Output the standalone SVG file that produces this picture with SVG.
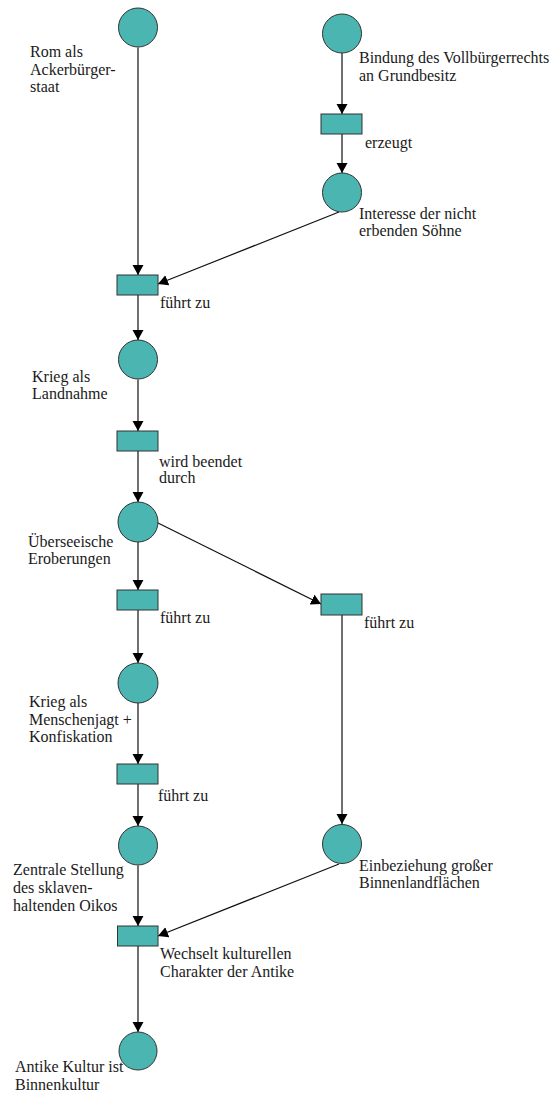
<svg xmlns="http://www.w3.org/2000/svg" width="552" height="1095" viewBox="0 0 552 1095">
<style>
.p{fill:#4bb5b1;stroke:#333;stroke-width:1}
.t{fill:#4bb5b1;stroke:#333;stroke-width:1}
.e{stroke:#111;stroke-width:1.2;fill:none;marker-end:url(#ah)}
text{font-family:"Liberation Serif","Times New Roman",serif;font-size:16px;fill:#1a1a1a}
</style>
<defs>
<marker id="ah" markerUnits="userSpaceOnUse" markerWidth="12" markerHeight="12" refX="10" refY="5.5" orient="auto">
<path d="M0,0 L10,5.5 L0,11 z" fill="#000"/>
</marker>
</defs>
<g id="connectors">
<line class="e" x1="138" y1="47.5" x2="138" y2="275"/>
<line class="e" x1="342" y1="53" x2="342" y2="114"/>
<line class="e" x1="342" y1="134" x2="342" y2="173"/>
<line class="e" x1="339" y1="212" x2="158" y2="284"/>
<line class="e" x1="138" y1="295" x2="138" y2="340"/>
<line class="e" x1="138" y1="379.5" x2="138" y2="431"/>
<line class="e" x1="138" y1="451" x2="138" y2="502"/>
<line class="e" x1="138" y1="542" x2="138" y2="590"/>
<line class="e" x1="158" y1="523" x2="321" y2="604"/>
<line class="e" x1="138" y1="610" x2="138" y2="663"/>
<line class="e" x1="138" y1="703" x2="138" y2="764"/>
<line class="e" x1="138" y1="784" x2="138" y2="826"/>
<line class="e" x1="342" y1="615" x2="342" y2="824"/>
<line class="e" x1="138" y1="865.5" x2="138" y2="926"/>
<line class="e" x1="339" y1="864" x2="158" y2="936"/>
<line class="e" x1="138" y1="946" x2="138" y2="1032"/>
</g>
<g id="p1"><circle class="p" cx="138" cy="27.5" r="19.5"/><text x="30" y="57">Rom als</text><text x="30" y="74.5">Ackerbürger-</text><text x="30" y="92">staat</text></g>
<g id="p2"><circle class="p" cx="342" cy="33.5" r="19.5"/><text x="359" y="63">Bindung des Vollbürgerrechts</text><text x="359" y="81">an Grundbesitz</text></g>
<g id="t1"><rect class="t" x="321" y="114" width="41" height="20"/><text x="365" y="148">erzeugt</text></g>
<g id="p3"><circle class="p" cx="342" cy="192.5" r="19.5"/><text x="359" y="219">Interesse der nicht</text><text x="359" y="236">erbenden Söhne</text></g>
<g id="t2"><rect class="t" x="117" y="275" width="41" height="20"/><text x="160" y="308">führt zu</text></g>
<g id="p4"><circle class="p" cx="138" cy="359.5" r="19.5"/><text x="32" y="382">Krieg als</text><text x="32" y="399">Landnahme</text></g>
<g id="t3"><rect class="t" x="117" y="431" width="41" height="20"/><text x="159" y="467">wird beendet</text><text x="159" y="483">durch</text></g>
<g id="p5"><circle class="p" cx="138" cy="522" r="20"/><text x="28" y="547">Überseeische</text><text x="28" y="564">Eroberungen</text></g>
<g id="t4"><rect class="t" x="117" y="590" width="41" height="20"/><text x="160" y="623">führt zu</text></g>
<g id="t5"><rect class="t" x="321" y="594" width="41" height="21"/><text x="364" y="628">führt zu</text></g>
<g id="p6"><circle class="p" cx="138" cy="683" r="20"/><text x="29" y="707">Krieg als</text><text x="29" y="724.5">Menschenjagt +</text><text x="29" y="742">Konfiskation</text></g>
<g id="t6"><rect class="t" x="117" y="764" width="41" height="20"/><text x="158" y="801">führt zu</text></g>
<g id="p7"><circle class="p" cx="138" cy="845.5" r="19.5"/><text x="13" y="875">Zentrale Stellung</text><text x="13" y="893">des sklaven-</text><text x="13" y="911">haltenden Oikos</text></g>
<g id="p8"><circle class="p" cx="342" cy="844" r="19.5"/><text x="359" y="871">Einbeziehung großer</text><text x="359" y="888">Binnenlandflächen</text></g>
<g id="t7"><rect class="t" x="117.5" y="926" width="40.5" height="20"/><text x="160" y="959">Wechselt kulturellen</text><text x="160" y="977">Charakter der Antike</text></g>
<g id="p9"><text x="15" y="1072">Antike Kultur ist</text><text x="15" y="1090">Binnenkultur</text><circle class="p" cx="138" cy="1051" r="19"/></g>
</svg>
